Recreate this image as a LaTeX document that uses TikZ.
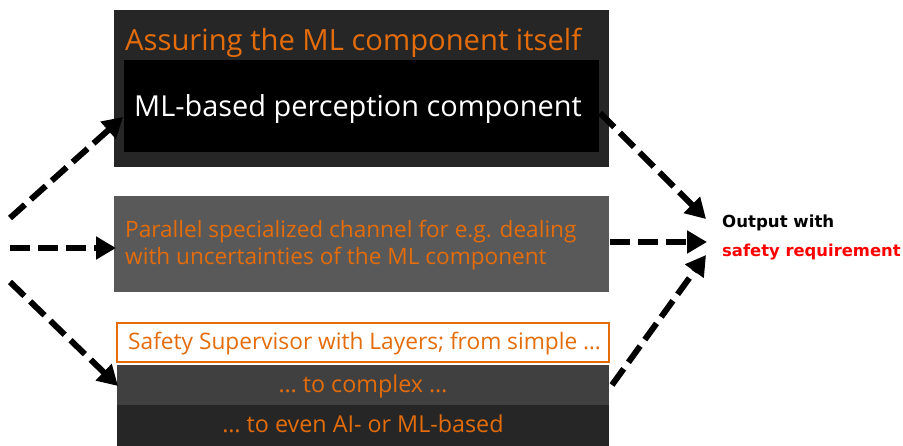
\documentclass[tikz,border=0pt]{standalone}
\usepackage{fontspec}
\setmainfont{Open Sans}
\newfontfamily\outfont{DejaVu Sans}
\usetikzlibrary{arrows.meta}
\definecolor{orng}{RGB}{228,108,10}
\definecolor{dkA}{RGB}{38,38,38}
\definecolor{dkB}{RGB}{89,89,89}
\definecolor{dkC}{RGB}{64,64,64}
\definecolor{redout}{RGB}{255,0,0}
\begin{document}
\begin{tikzpicture}[x=1pt,y=-1pt,
  box/.style={inner sep=0pt, outer sep=0pt, anchor=north west},
  arr/.style={line width=6pt, dash pattern=on 20pt off 8pt, -{Triangle[length=20pt,width=22pt]}},
  txt/.style={inner sep=0pt, anchor=base west},
  ctxt/.style={inner sep=0pt, anchor=base, text=orng, font=\fontsize{23.3}{26}\selectfont}]
\useasboundingbox (0,0) rectangle (903,446);
\fill[white] (0,0) rectangle (903,446);
% top block
\node[box, fill=dkA, minimum width=495pt, minimum height=157pt] (top) at (114,10) {};
\node[box, fill=black, minimum width=475pt, minimum height=92pt] (ml) at (124,60) {};
\node[txt, text=orng, font=\fontsize{29.2}{32}\selectfont] (title) at (125,51) {Assuring the ML component itself};
\node[txt, text=white, font=\fontsize{28.9}{32}\selectfont] (mltxt) at (134,117) {ML-based perception component};
% middle block
\node[box, fill=dkB, minimum width=495pt, minimum height=96pt] (mid) at (114,196) {};
\node[txt, text=orng, font=\fontsize{22.6}{26}\selectfont] (midA) at (125,238) {Parallel specialized channel for e.g. dealing};
\node[txt, text=orng, font=\fontsize{22.6}{26}\selectfont] (midB) at (125,265) {with uncertainties of the ML component};
% bottom block
\node[box, draw=orng, line width=1.5pt, fill=white, minimum width=492pt, minimum height=39pt] (sup) at (117,323) {};
\node[txt, text=orng, font=\fontsize{22.7}{26}\selectfont] (suptxt) at (128,350) {Safety Supervisor with Layers; from simple …};
\node[box, fill=dkC, minimum width=492pt, minimum height=40pt] (cpx) at (117,365) {};
\node[ctxt] (cpxtxt) at (363,393) {… to complex …};
\node[box, fill=dkA, minimum width=492pt, minimum height=41pt] (ai) at (117,405) {};
\node[ctxt] (aitxt) at (363,433) {… to even AI- or ML-based};
% output
\node[txt, font=\outfont\bfseries\fontsize{16.6}{20}\selectfont] (out1) at (722,228) {Output with};
\node[txt, text=redout, font=\outfont\bfseries\fontsize{16.4}{20}\selectfont] (out2) at (722,257) {safety requirement};
% arrows
\coordinate (s1) at (10,218);
\coordinate (s2) at (10,248);
\coordinate (s3) at (10,282);
\coordinate (t1) at (123,117);
\coordinate (t2) at (116,248);
\coordinate (t3) at (118,386);
\coordinate (r1) at (600,113);
\coordinate (r2) at (610,242);
\coordinate (r3) at (612,385);
\coordinate (o1) at (706,219);
\coordinate (o2) at (707,242);
\coordinate (o3) at (706,255);
\draw[arr] (s1) -- (t1);
\draw[arr] (s2) -- (t2);
\draw[arr] (s3) -- (t3);
\draw[arr] (r1) -- (o1);
\draw[arr] (r2) -- (o2);
\draw[arr] (r3) -- (o3);
\end{tikzpicture}
\end{document}
